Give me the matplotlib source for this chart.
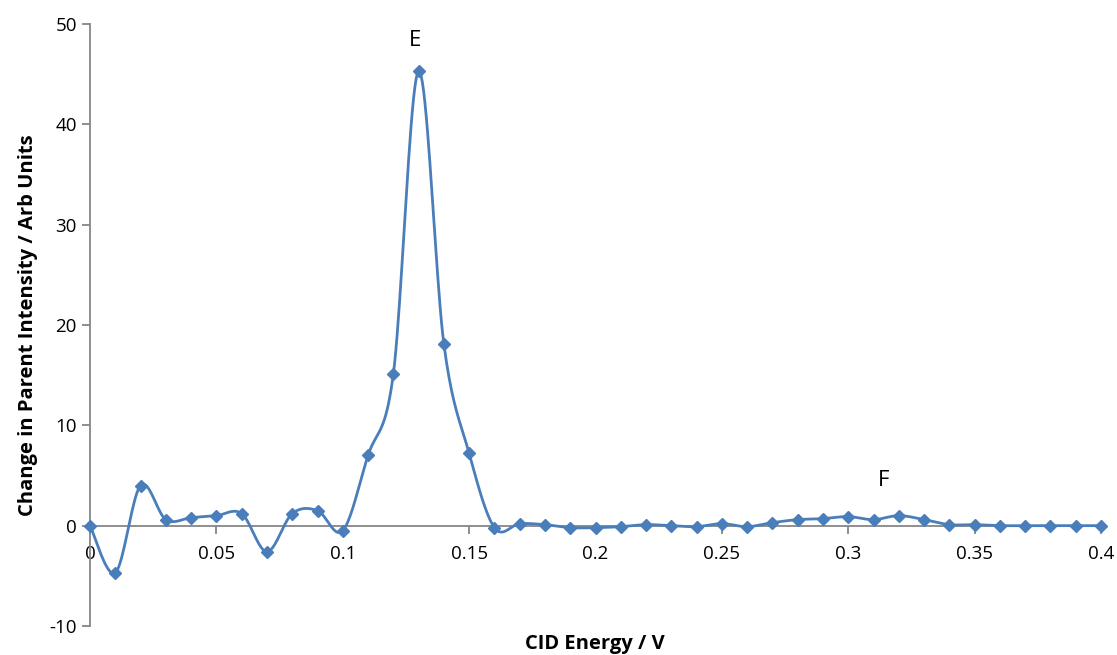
import numpy as np
import matplotlib
matplotlib.use("Agg")
import matplotlib.pyplot as plt

# CID energy (V) and change in parent intensity
energy = [0.00, 0.01, 0.02, 0.03, 0.04, 0.05, 0.06, 0.07, 0.08, 0.09,
          0.10, 0.11, 0.12, 0.13, 0.14, 0.15, 0.16, 0.17, 0.18, 0.19,
          0.20, 0.21, 0.22, 0.23, 0.24, 0.25, 0.26, 0.27, 0.28, 0.29,
          0.30, 0.31, 0.32, 0.33, 0.34, 0.35, 0.36, 0.37, 0.38, 0.39, 0.40]
intensity = [0.0, -4.7, 4.0, 0.6, 0.8, 1.0, 1.2, -2.6, 1.2, 1.5,
             -0.5, 7.0, 15.1, 45.3, 18.1, 7.2, -0.2, 0.2, 0.1, -0.2,
             -0.2, -0.1, 0.1, 0.0, -0.1, 0.2, -0.1, 0.3, 0.6, 0.7,
             0.9, 0.6, 1.0, 0.6, 0.1, 0.1, 0.0, 0.0, 0.0, 0.0, 0.0]

xticks = [0, 0.05, 0.1, 0.15, 0.2, 0.25, 0.3, 0.35, 0.4]
xticklabels = ['0', '0.05', '0.1', '0.15', '0.2', '0.25', '0.3', '0.35', '0.4']
yticks = [-10, 0, 10, 20, 30, 40, 50]

peak_labels = ['E', 'F']
peak_pos = [(0.1286, 48.4), (0.314, 4.5)]


def smooth(x, y, n=20):
    # Catmull-Rom style cubic Bezier, like Excel's smoothed line
    x = np.asarray(x, float)
    y = np.asarray(y, float)
    px = np.concatenate([[x[0]], x, [x[-1]]])
    py = np.concatenate([[y[0]], y, [y[-1]]])
    xs, ys = [], []
    t = np.linspace(0, 1, n, endpoint=False)
    for i in range(1, len(px) - 2):
        p0 = np.array([px[i], py[i]])
        p3 = np.array([px[i + 1], py[i + 1]])
        c1 = p0 + (p3 - np.array([px[i - 1], py[i - 1]])) / 6
        c2 = p3 - (np.array([px[i + 2], py[i + 2]]) - p0) / 6
        pts = ((1 - t)[:, None] ** 3 * p0 + 3 * ((1 - t) ** 2 * t)[:, None] * c1
               + 3 * ((1 - t) * t ** 2)[:, None] * c2 + (t ** 3)[:, None] * p3)
        xs.extend(pts[:, 0])
        ys.extend(pts[:, 1])
    xs.append(x[-1])
    ys.append(y[-1])
    return np.array(xs), np.array(ys)


plt.rcParams['font.family'] = ['Open Sans', 'DejaVu Sans']
plt.rcParams['axes.unicode_minus'] = False

fig = plt.figure(figsize=(11.17, 6.55), dpi=100)
ax = fig.add_axes([0.0806, 0.0443, 0.9051, 0.9191])

color = '#4A7EBB'
sx, sy = smooth(energy, intensity)
ax.plot(sx, sy, color=color, lw=2, zorder=3)
ax.plot(energy, intensity, linestyle='none', marker='D', ms=6.5,
        color=color, zorder=4, clip_on=False)

ax.set_xlim(0, 0.4)
ax.set_ylim(-10, 50)

axis_gray = '#868686'
for side in ['top', 'right']:
    ax.spines[side].set_visible(False)
ax.spines['bottom'].set_position(('data', 0))
ax.spines['bottom'].set_color(axis_gray)
ax.spines['left'].set_color(axis_gray)
ax.spines['bottom'].set_linewidth(1.3)
ax.spines['left'].set_linewidth(1.3)

ax.set_xticks(xticks)
ax.set_xticklabels(xticklabels)
ax.set_yticks(yticks)
ax.tick_params(axis='both', colors=axis_gray, labelcolor='black',
               labelsize=13.5, length=6, width=1.3, direction='out')
ax.tick_params(axis='x', pad=8)

ax.set_ylabel('Change in Parent Intensity / Arb Units', fontsize=14.5,
              fontweight='bold', labelpad=8)
fig.text(0.533, 0.002, 'CID Energy / V', ha='center', va='bottom',
         fontsize=14.5, fontweight='bold')

for lab, (px_, py_) in zip(peak_labels, peak_pos):
    ax.text(px_, py_, lab, ha='center', va='center', fontsize=16)

fig.savefig('out.png', dpi=100)
